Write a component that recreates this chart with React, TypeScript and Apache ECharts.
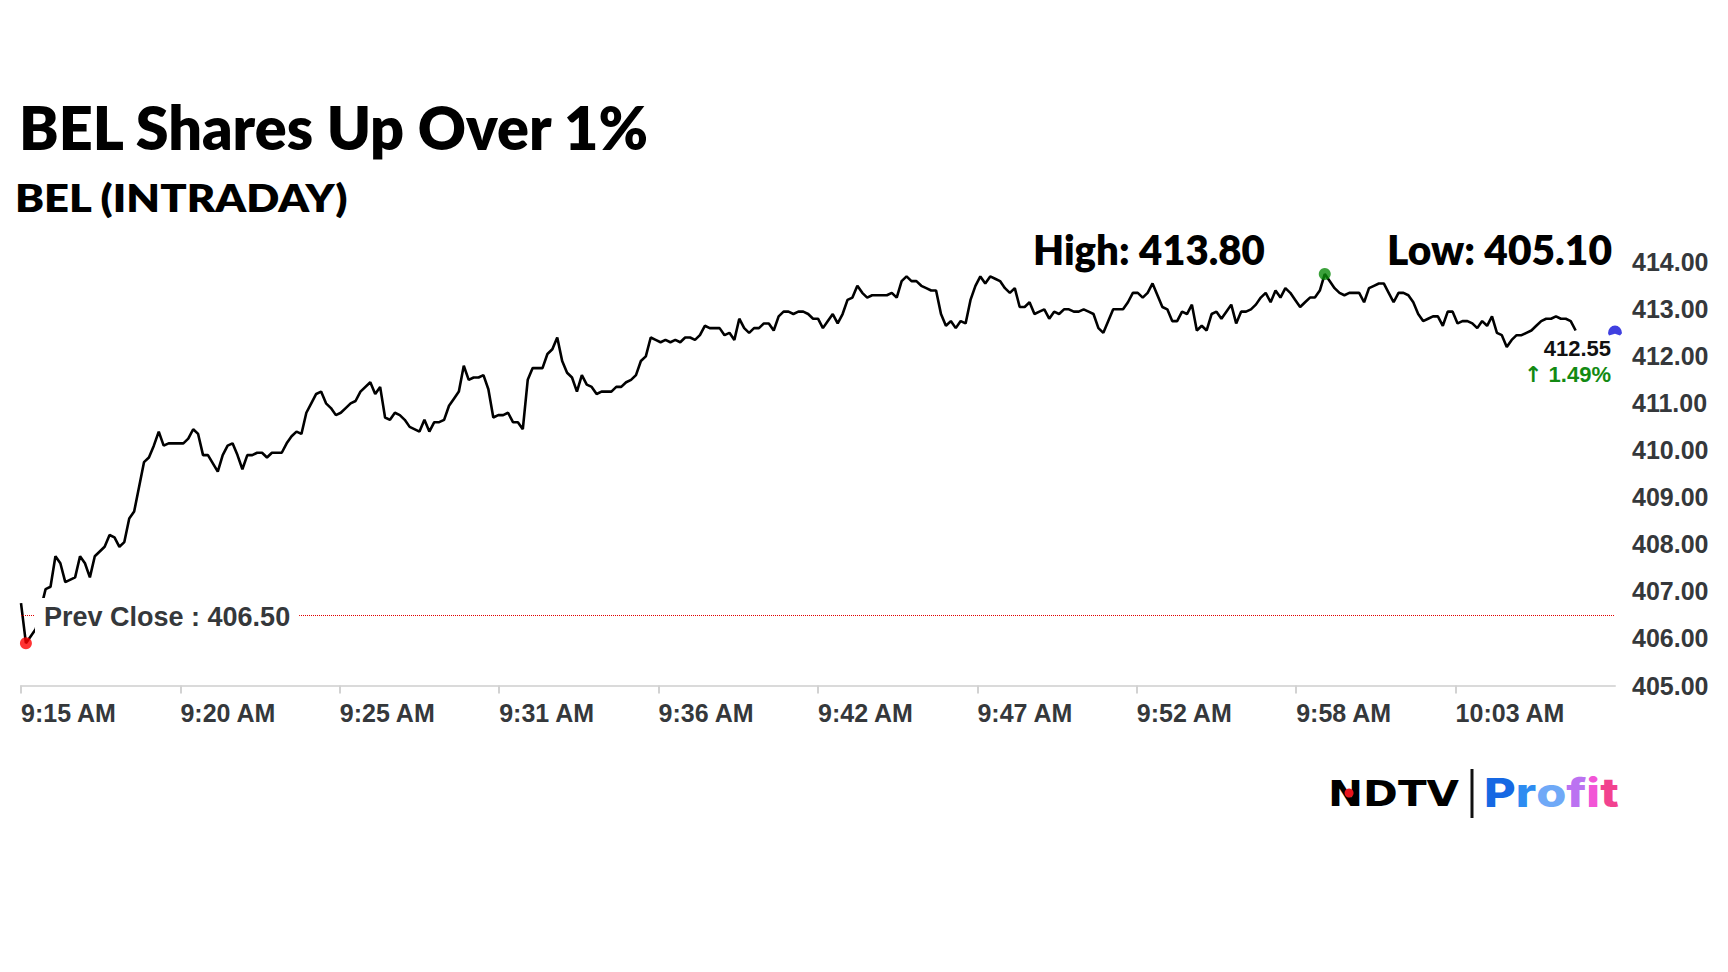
import React, { useEffect, useRef } from "react";
import * as echarts from "echarts";

// ---------- DATA ----------
const title = "BEL Shares Up Over 1%";
const subtitle = "BEL (INTRADAY)";
const openLabel = "9:15 AM";
// seconds elapsed since 9:15:00
const secFromOpen = [
  0, 10, 30, 50, 60, 70, 80, 90, 110, 120, 130, 140, 150, 170, 180, 190, 200, 210, 220, 230,
  250, 260, 270, 280, 290, 300, 330, 340, 350, 360, 370, 380, 400, 410, 420, 430, 440, 450, 460, 470,
  480, 490, 500, 510, 530, 540, 550, 560, 570, 580, 590, 600, 610, 620, 630, 640, 650, 660, 670, 680,
  690, 710, 720, 730, 740, 750, 760, 770, 780, 790, 810, 820, 830, 840, 850, 860, 870, 880, 890, 900,
  910, 920, 930, 940, 950, 960, 970, 980, 990, 1000, 1010, 1020, 1030, 1040, 1060, 1070, 1080, 1090, 1100, 1110,
  1120, 1130, 1140, 1150, 1160, 1170, 1180, 1190, 1200, 1210, 1220, 1230, 1240, 1250, 1260, 1270, 1280, 1290, 1300, 1310,
  1320, 1330, 1340, 1350, 1360, 1370, 1380, 1390, 1400, 1420, 1430, 1440, 1450, 1460, 1470, 1480, 1490, 1500, 1510, 1520,
  1530, 1540, 1550, 1560, 1570, 1580, 1590, 1600, 1610, 1620, 1630, 1640, 1650, 1660, 1670, 1680, 1690, 1700, 1710, 1720,
  1730, 1760, 1770, 1780, 1790, 1800, 1810, 1820, 1830, 1840, 1850, 1860, 1870, 1880, 1890, 1900, 1910, 1920, 1930, 1940,
  1950, 1960, 1970, 1980, 1990, 2000, 2010, 2020, 2030, 2040, 2050, 2060, 2070, 2080, 2090, 2100, 2110, 2120, 2130, 2140,
  2150, 2160, 2170, 2180, 2190, 2200, 2210, 2220, 2240, 2250, 2260, 2270, 2280, 2290, 2300, 2310, 2320, 2330, 2340, 2350,
  2360, 2370, 2380, 2390, 2400, 2410, 2420, 2430, 2440, 2450, 2460, 2470, 2480, 2490, 2500, 2510, 2520, 2530, 2540, 2550,
  2560, 2570, 2580, 2590, 2600, 2610, 2620, 2630, 2640, 2650, 2660, 2670, 2680, 2690, 2700, 2720, 2730, 2740, 2750, 2760,
  2770, 2780, 2790, 2800, 2810, 2820, 2830, 2840, 2850, 2860, 2870, 2880, 2890, 2900, 2910, 2920, 2930, 2940, 2950, 2960,
  2970, 2980, 2990, 3000, 3010, 3020, 3030, 3040, 3050, 3060, 3070, 3080, 3090, 3100, 3110, 3120, 3130, 3140, 3150, 3160,
];
const price = [
  406.75, 405.9, 406.2, 407.05, 407.1, 407.75, 407.6, 407.2, 407.3, 407.75, 407.6, 407.3, 407.75, 407.95, 408.2, 408.15, 407.95, 408.05, 408.55, 408.7,
  409.75, 409.85, 410.1, 410.4, 410.1, 410.15, 410.15, 410.25, 410.45, 410.35, 409.9, 409.9, 409.55, 409.9, 410.1, 410.15, 409.9, 409.6, 409.9, 409.9,
  409.95, 409.95, 409.85, 409.95, 409.95, 410.15, 410.3, 410.4, 410.35, 410.8, 411.0, 411.2, 411.25, 411.0, 410.9, 410.75, 410.8, 410.9, 411.0, 411.05,
  411.25, 411.45, 411.2, 411.35, 410.7, 410.65, 410.8, 410.75, 410.65, 410.5, 410.4, 410.65, 410.4, 410.6, 410.6, 410.65, 410.95, 411.1, 411.25, 411.8,
  411.5, 411.55, 411.55, 411.6, 411.3, 410.7, 410.75, 410.75, 410.8, 410.6, 410.6, 410.45, 411.5, 411.75, 411.75, 412.05, 412.15, 412.4, 411.9, 411.65,
  411.55, 411.25, 411.6, 411.4, 411.35, 411.2, 411.25, 411.25, 411.25, 411.35, 411.35, 411.45, 411.5, 411.6, 411.9, 412.0, 412.4, 412.35, 412.3, 412.35,
  412.3, 412.35, 412.3, 412.4, 412.4, 412.35, 412.45, 412.65, 412.6, 412.6, 412.45, 412.5, 412.35, 412.8, 412.6, 412.5, 412.6, 412.6, 412.7, 412.7,
  412.55, 412.85, 412.95, 412.95, 412.9, 412.95, 412.95, 412.9, 412.8, 412.8, 412.6, 412.75, 412.9, 412.7, 412.9, 413.2, 413.25, 413.5, 413.35, 413.25,
  413.3, 413.3, 413.35, 413.25, 413.6, 413.7, 413.6, 413.6, 413.5, 413.45, 413.4, 413.4, 412.9, 412.65, 412.75, 412.6, 412.75, 412.7, 413.2, 413.5,
  413.7, 413.55, 413.7, 413.65, 413.6, 413.45, 413.35, 413.45, 413.05, 413.05, 413.15, 412.9, 412.95, 413.0, 412.8, 412.95, 412.9, 413.0, 413.0, 412.95,
  412.95, 413.0, 412.95, 412.9, 412.6, 412.5, 412.75, 413.0, 413.0, 413.15, 413.35, 413.35, 413.25, 413.35, 413.55, 413.3, 413.05, 413.0, 412.75, 412.75,
  412.95, 412.9, 413.1, 412.55, 412.65, 412.55, 412.9, 412.95, 412.8, 412.95, 413.1, 412.7, 412.95, 412.95, 413.0, 413.1, 413.25, 413.35, 413.15, 413.4,
  413.25, 413.45, 413.35, 413.2, 413.05, 413.15, 413.25, 413.25, 413.4, 413.75, 413.6, 413.45, 413.35, 413.3, 413.35, 413.35, 413.15, 413.45, 413.5, 413.55,
  413.55, 413.35, 413.15, 413.35, 413.35, 413.3, 413.15, 412.9, 412.75, 412.8, 412.85, 412.85, 412.65, 412.95, 412.95, 412.7, 412.75, 412.75, 412.7, 412.6,
  412.75, 412.65, 412.85, 412.5, 412.45, 412.2, 412.35, 412.45, 412.45, 412.5, 412.55, 412.65, 412.75, 412.8, 412.8, 412.85, 412.8, 412.8, 412.75, 412.55,
];
const prevClose = 406.5;
const dayHigh = 413.8;
const dayLow = 405.1;
const lastPrice = 412.55;
const xTickStepSec = 324; // 5.4 minutes
const xSpanSec = 3240;
const xTickLabels = [
  openLabel, "9:20 AM", "9:25 AM", "9:31 AM", "9:36 AM", "9:42 AM", "9:47 AM", "9:52 AM", "9:58 AM", "10:03 AM", "",
];
const yMin = 405;
const yMax = 414;
const yStep = 1;
const brandLeft = "NDTV";
const brandRight = "Profit";
const brandColors = ["#1668e3", "#2d8cf1", "#6fa9f7", "#bb72f1", "#f255d6", "#f2428f"];

// ---------- HELPERS ----------
const measureCtx: CanvasRenderingContext2D | null =
  typeof document !== "undefined" ? document.createElement("canvas").getContext("2d") : null;
function fitScale(text: string, font: string, width: number) {
  if (!measureCtx) return 1;
  measureCtx.font = font;
  const w = measureCtx.measureText(text).width;
  return w > 0 ? width / w : 1;
}
function textWidth(text: string, font: string) {
  if (!measureCtx) return 0;
  measureCtx.font = font;
  return measureCtx.measureText(text).width;
}

const AXIS_FONT = "'Liberation Sans', Arial, sans-serif";
const AXIS_COLOR = "#35383b";

export default function App() {
  const ref = useRef<HTMLDivElement>(null);

  useEffect(() => {
    const el = ref.current;
    if (!el) return;
    const chart = echarts.init(el, null, { renderer: "svg" });

    const seriesData = secFromOpen.map((s, i) => [s, price[i]]);
    let hi = 0;
    let lo = 0;
    price.forEach((v, i) => {
      if (v > price[hi]) hi = i;
      if (v < price[lo]) lo = i;
    });

    const labelStyle = {
      fontFamily: AXIS_FONT,
      fontWeight: "bold" as const,
      fontSize: 25,
      color: AXIS_COLOR,
    };

    chart.setOption({
      animation: false,
      backgroundColor: "#ffffff",
      grid: { left: 21, right: 113, top: 262.3, bottom: 286.5, containLabel: false },
      xAxis: {
        type: "value",
        min: 0,
        max: xSpanSec,
        interval: xTickStepSec,
        axisLine: { show: true, lineStyle: { color: "#dadada", width: 2 } },
        axisTick: { show: true, length: 8, lineStyle: { color: "#d2d2d2", width: 2 } },
        splitLine: { show: false },
        axisLabel: {
          ...labelStyle,
          align: "left",
          margin: 15,
          showMaxLabel: false,
          formatter: (v: number) => xTickLabels[Math.round(v / xTickStepSec)] ?? "",
        },
      },
      yAxis: {
        type: "value",
        position: "right",
        min: yMin,
        max: yMax,
        interval: yStep,
        axisLine: { show: false },
        axisTick: { show: false },
        splitLine: { show: false },
        axisLabel: {
          ...labelStyle,
          margin: 17,
          formatter: (v: number) => v.toFixed(2),
        },
      },
      series: [
        {
          type: "line",
          data: seriesData,
          showSymbol: false,
          symbol: "none",
          z: 3,
          lineStyle: { color: "#000000", width: 2.6 },
          markLine: {
            silent: true,
            symbol: "none",
            label: { show: false },
            lineStyle: { color: "#e00000", type: [1, 1], width: 1 },
            data: [{ yAxis: prevClose }],
          },
        },
        {
          type: "scatter",
          data: [seriesData[lo]],
          symbol: "circle",
          symbolSize: 12,
          z: 6,
          itemStyle: { color: "#ff0000" },
        },
        {
          type: "scatter",
          data: [seriesData[hi]],
          symbol: "circle",
          symbolSize: 12,
          z: 6,
          itemStyle: { color: "#0a8a0a" },
        },
        {
          type: "scatter",
          data: [[xSpanSec, lastPrice]],
          symbol: "path://M0,8A7,7 0 0 1 14,8L12,10L7,8.5L1,10Z",
          symbolSize: [14, 10],
          z: 6,
          itemStyle: { color: "#1010d8" },
        },
      ],
    });

    const [pcx, pcy] = chart.convertToPixel({ gridIndex: 0 }, [0, prevClose]) as number[];
    const [lpx, lpy] = chart.convertToPixel({ gridIndex: 0 }, [xSpanSec, lastPrice]) as number[];
    const pct = ((lastPrice - prevClose) / prevClose) * 100;

    const titleFont = "800 60px Lato";
    const subFont = "800 38px Lato";
    const hlFont = "800 41px Lato";
    const highText = `High: ${dayHigh.toFixed(2)}`;
    const lowText = `Low: ${dayLow.toFixed(2)}`;
    const ndtvFont = "bold 36px 'DejaVu Sans'";
    const profitFont = "800 40px Inter";
    const ndtvScale = fitScale(brandLeft, ndtvFont, 131);
    const nWidth = textWidth("N", ndtvFont) * ndtvScale;
    const profitScale = fitScale(brandRight, profitFont, 134);

    const rich: Record<string, any> = {};
    const letters = brandRight.split("");
    letters.forEach((ch, i) => {
      rich["c" + i] = {
        fill: brandColors[i % brandColors.length],
        fontFamily: "Inter",
        fontWeight: 800,
        fontSize: 40,
      };
    });
    const richText = letters.map((ch, i) => `{c${i}|${ch}}`).join("");

    const bigText = (id: string, text: string, x: number, y: number, size: number, width: number, font: string) => ({
      id,
      type: "text",
      x,
      y,
      scaleX: fitScale(text, font, width),
      z: 10,
      style: {
        text,
        fill: "#000",
        fontFamily: "Lato",
        fontWeight: 800,
        fontSize: size,
        align: "left",
        verticalAlign: "middle",
        textAlign: "left",
        textVerticalAlign: "middle",
      },
    });

    chart.setOption({
      graphic: [
        bigText("title", title, 19, 127, 60, 632, titleFont),
        bigText("subtitle", subtitle, 15, 198, 38, 334, subFont),
        bigText("high", highText, 1033, 249, 41, 232, hlFont),
        bigText("low", lowText, 1387, 249, 41, 225, hlFont),
        {
          id: "prevCloseLabel",
          type: "text",
          x: pcx + 14,
          y: pcy + 2.5,
          z: 20,
          style: {
            text: `Prev Close : ${prevClose.toFixed(2)}`,
            fill: AXIS_COLOR,
            fontFamily: AXIS_FONT,
            fontWeight: "bold",
            fontSize: 27,
            backgroundColor: "#ffffff",
            padding: [6, 9, 6, 9],
            align: "left",
            verticalAlign: "middle",
            textAlign: "left",
            textVerticalAlign: "middle",
          },
        },
        {
          id: "lastPriceLabel",
          type: "text",
          x: lpx - 4,
          y: lpy + 18,
          z: 20,
          style: {
            text: lastPrice.toFixed(2),
            fill: "#111",
            fontFamily: AXIS_FONT,
            fontWeight: "bold",
            fontSize: 22,
            align: "right",
            verticalAlign: "middle",
            textAlign: "right",
            textVerticalAlign: "middle",
          },
        },
        {
          id: "changeLabel",
          type: "text",
          x: lpx - 4,
          y: lpy + 44,
          z: 20,
          style: {
            text: `{arr|\u2191} {pct|${pct.toFixed(2)}%}`,
            rich: {
              arr: { fill: "#138a13", fontFamily: "DejaVu Sans", fontWeight: "bold", fontSize: 22 },
              pct: { fill: "#138a13", fontFamily: AXIS_FONT, fontWeight: "bold", fontSize: 22 },
            },
            fill: "#138a13",
            fontFamily: AXIS_FONT,
            fontWeight: "bold",
            fontSize: 22,
            align: "right",
            verticalAlign: "middle",
            textAlign: "right",
            textVerticalAlign: "middle",
          },
        },
        {
          id: "ndtv",
          type: "text",
          x: 1328,
          y: 794,
          scaleX: ndtvScale,
          z: 10,
          style: {
            text: brandLeft,
            fill: "#000",
            fontFamily: "DejaVu Sans",
            fontWeight: "bold",
            fontSize: 36,
            align: "left",
            verticalAlign: "middle",
            textAlign: "left",
            textVerticalAlign: "middle",
          },
        },
        {
          id: "ndtvDot",
          type: "circle",
          z: 11,
          shape: { cx: 1328 + nWidth * 0.6, cy: 793, r: 4.5 },
          style: { fill: "#e8141c" },
        },
        {
          id: "brandDivider",
          type: "line",
          z: 10,
          shape: { x1: 1472, y1: 769, x2: 1472, y2: 818 },
          style: { stroke: "#111", lineWidth: 3 },
        },
        {
          id: "profit",
          type: "text",
          x: 1484,
          y: 793,
          scaleX: profitScale,
          z: 10,
          style: {
            text: richText,
            rich,
            fontFamily: "Inter",
            fontWeight: 800,
            fontSize: 40,
            align: "left",
            verticalAlign: "middle",
            textAlign: "left",
            textVerticalAlign: "middle",
          },
        },
      ],
    });

    return () => {
      chart.dispose();
    };
  }, []);

  return (
    <div
      ref={ref}
      style={{
        position: "fixed",
        left: 0,
        top: 0,
        width: 1728,
        height: 972,
        background: "#ffffff",
      }}
    />
  );
}
